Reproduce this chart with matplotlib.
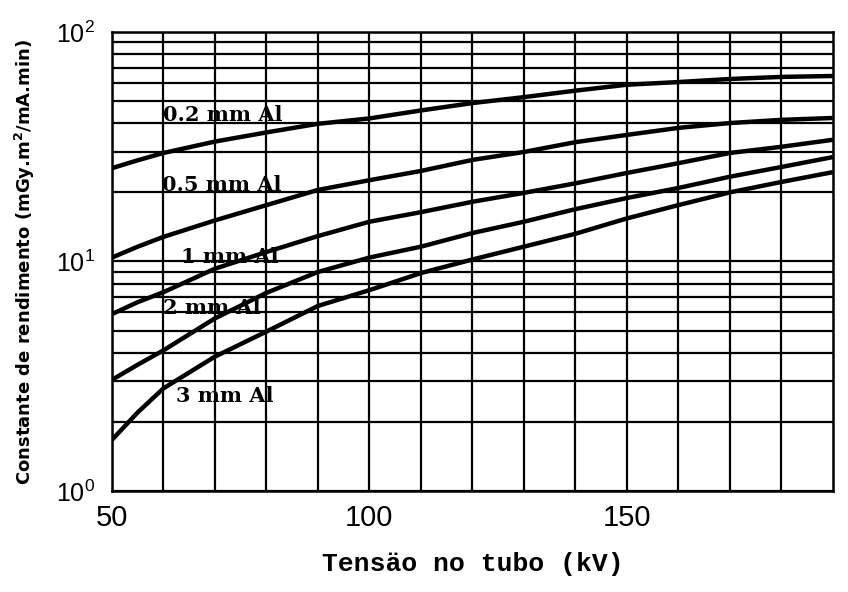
import numpy as np
import matplotlib
matplotlib.use("Agg")
import matplotlib.pyplot as plt
from matplotlib.ticker import FixedLocator, FixedFormatter, LogLocator

# tube voltage (kV)
kv = [50, 55, 60, 70, 80, 90, 100, 110, 120, 130, 140, 150, 160, 170, 180, 190]

# output constant (mGy.m2/mA.min) per filtration
al_02 = [25.5, 27.6, 29.7, 33.3, 36.5, 39.8, 42.0, 45.5, 49.0, 52.0, 55.5, 58.9, 60.5, 62.4, 63.7, 64.3]
al_05 = [10.4, 11.6, 12.8, 15.1, 17.6, 20.5, 22.6, 24.8, 27.7, 30.0, 33.1, 35.6, 38.2, 40.1, 41.4, 42.2]
al_1 = [5.9, 6.65, 7.35, 9.3, 11.0, 12.9, 14.9, 16.4, 18.2, 19.9, 21.9, 24.3, 26.8, 29.7, 31.6, 33.9]
al_2 = [3.05, 3.55, 4.1, 5.65, 7.3, 9.0, 10.4, 11.6, 13.3, 14.9, 16.9, 18.9, 20.9, 23.4, 25.8, 28.5]
al_3 = [1.67, 2.2, 2.8, 3.85, 4.95, 6.4, 7.5, 8.9, 10.2, 11.6, 13.2, 15.4, 17.6, 20.0, 22.2, 24.5]

series = [al_02, al_05, al_1, al_2, al_3]
labels = ["0.2 mm Al", "0.5 mm Al", "1 mm Al", "2 mm Al", "3 mm Al"]
label_pos = [(60, 43.5), (59.8, 21.5), (63.5, 10.5), (60, 6.3), (62.5, 2.6)]

fig = plt.figure(figsize=(8.48, 5.92), dpi=100)
ax = fig.add_axes([0.132, 0.1706, 0.850, 0.7754])

for vals in series:
    ax.plot(kv, vals, color="black", lw=3.2, solid_capstyle="butt",
            solid_joinstyle="round", zorder=3)

for text, (x, y) in zip(labels, label_pos):
    ax.text(x, y, text, family="DejaVu Serif", fontweight="bold", fontsize=15,
            va="center", ha="left", zorder=4)

ax.set_yscale("log")
ax.set_xlim(50, 190)
ax.set_ylim(1, 100)

# grid: every 10 kV, log minor lines
ax.xaxis.set_major_locator(FixedLocator([50, 100, 150]))
ax.xaxis.set_minor_locator(FixedLocator(np.arange(60, 190, 10)))
ax.yaxis.set_major_locator(FixedLocator([1, 10, 100]))
ax.yaxis.set_major_formatter(FixedFormatter([r"$\mathregular{10^{0}}$", r"$\mathregular{10^{1}}$",
                                             r"$\mathregular{10^{2}}$"]))
ax.yaxis.set_minor_locator(LogLocator(base=10, subs=np.arange(2, 10), numticks=20))
ax.yaxis.set_minor_formatter(plt.NullFormatter())
ax.grid(True, which="both", color="black", lw=1.6)
ax.set_axisbelow(True)

ax.tick_params(which="both", length=0)
ax.tick_params(axis="x", pad=9, labelsize=21)
ax.tick_params(axis="y", pad=12, labelsize=18)
for lbl in ax.get_xticklabels() + ax.get_yticklabels():
    lbl.set_family("Liberation Sans")

for sp in ax.spines.values():
    sp.set_linewidth(1.8)

ax.set_xlabel("Tensäo no tubo (kV)", family="Liberation Mono", fontweight="bold",
              fontsize=19, labelpad=15)
ax.set_ylabel(r"Constante de rendimento (mGy.m$\mathregular{^{2}}$/mA.min)",
              family="DejaVu Sans", fontweight="bold", fontsize=13, labelpad=14)

fig.savefig("out.png", dpi=100)
